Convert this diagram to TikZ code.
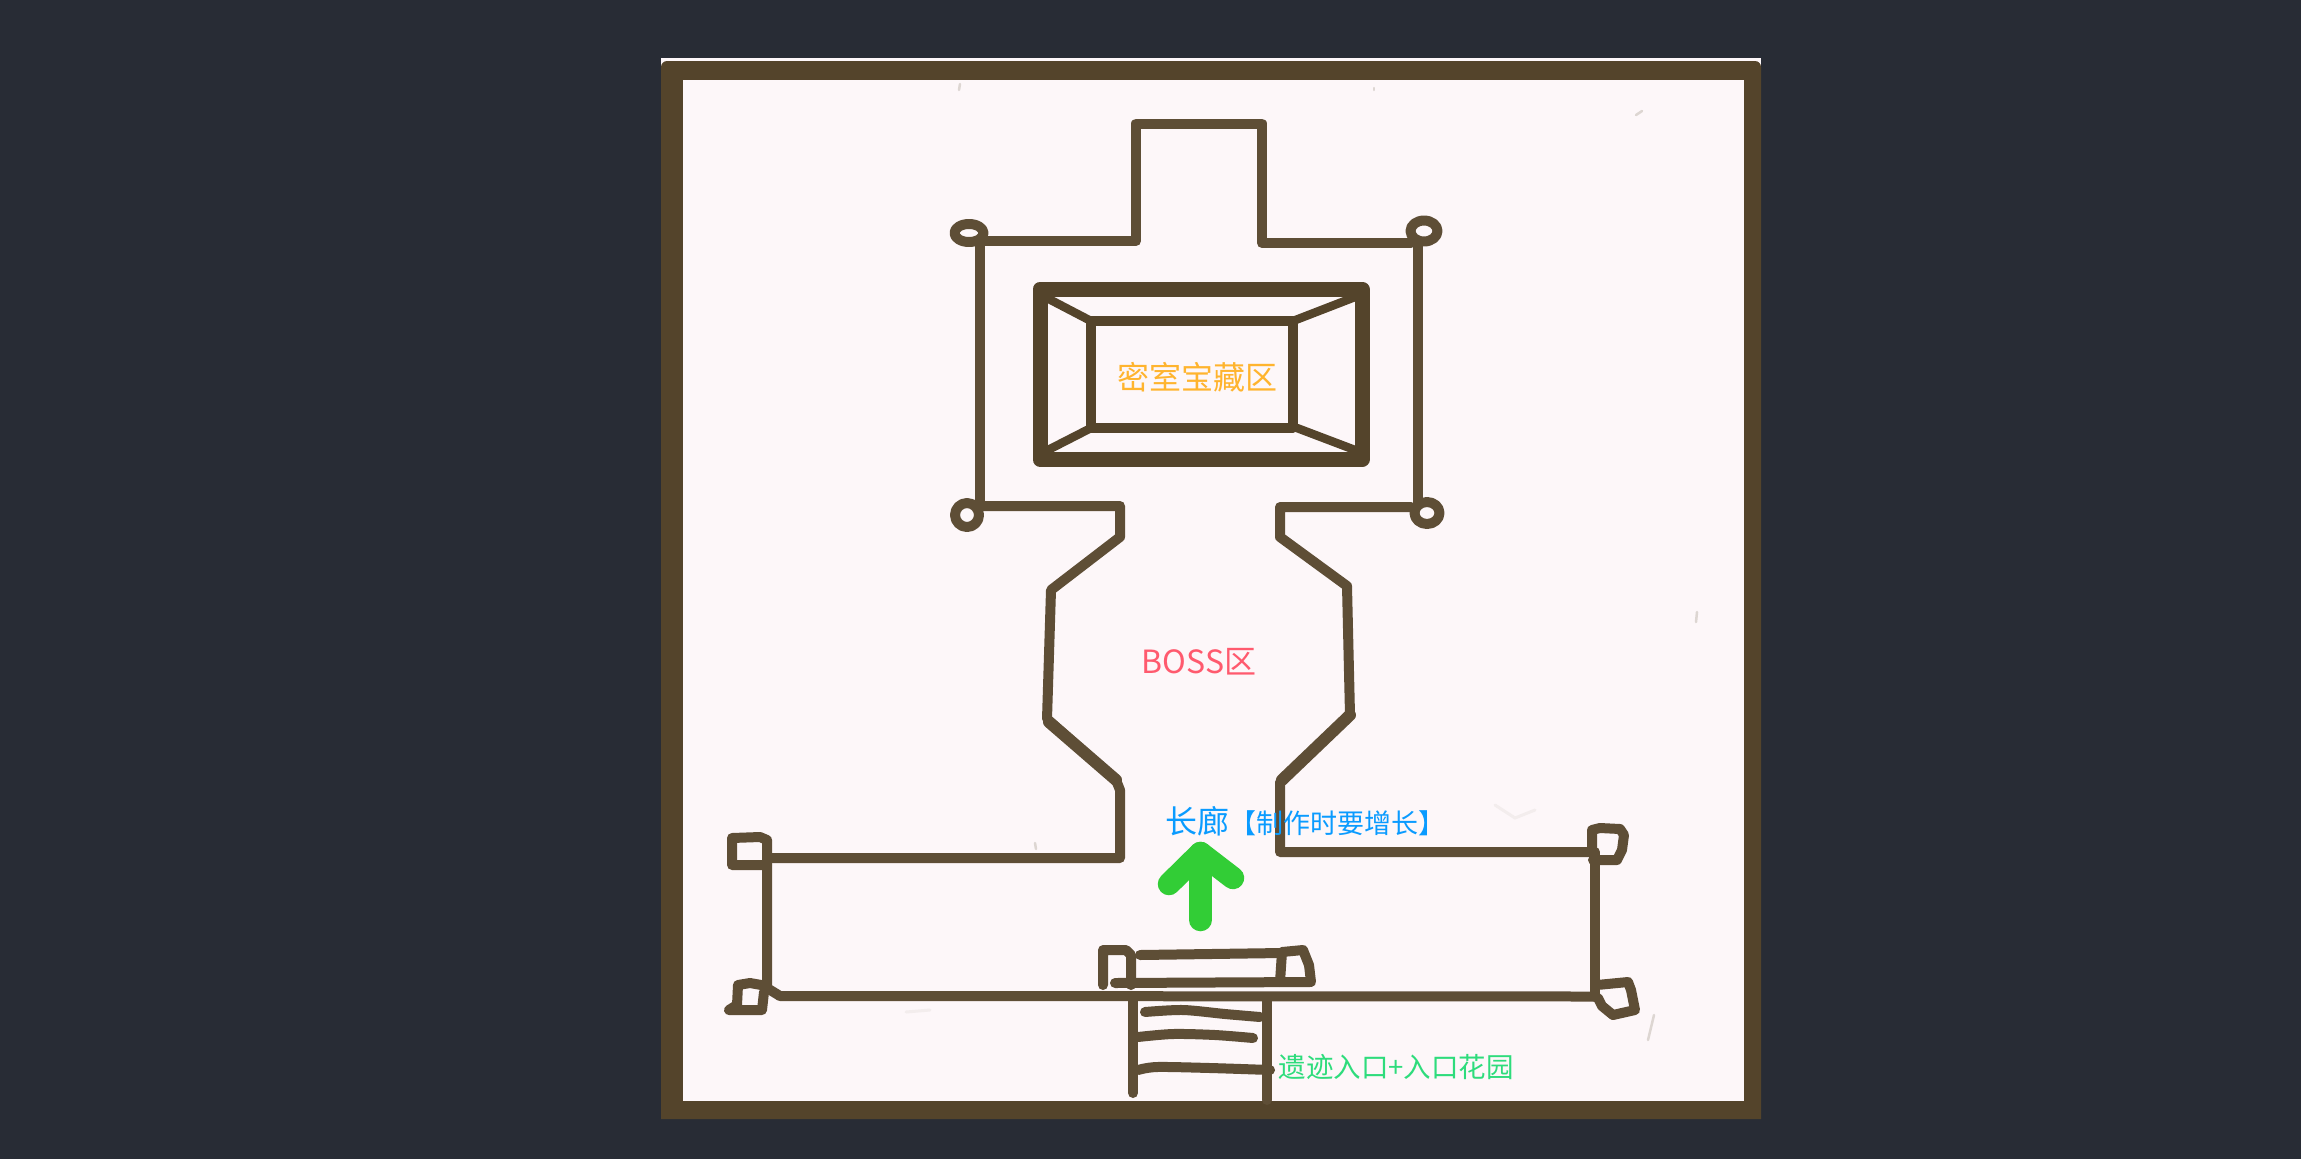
\documentclass[tikz,border=0pt]{standalone}
\usepackage{fontspec}
\newfontfamily\cjk{Noto Sans CJK SC}
\definecolor{bgdark}{HTML}{282C35}
\definecolor{paper}{HTML}{FDF7F9}
\definecolor{ink}{HTML}{54442B}
\definecolor{inkl}{HTML}{5E4E36}
\definecolor{speck}{HTML}{DDD6D2}
\definecolor{faintspeck}{HTML}{F3EDED}
\definecolor{gold}{HTML}{FFB42E}
\definecolor{rosered}{HTML}{FF5A6E}
\definecolor{skyblue}{HTML}{0A9BFF}
\definecolor{mint}{HTML}{2EDC7C}
\definecolor{arrowgreen}{HTML}{32CD36}
\tikzset{
  sketch/.style={draw=inkl,line width=1mm,line join=round,line cap=round},
  heavy/.style={draw=ink,line width=1.5mm,line join=round},
  fleck/.style={draw=speck,line width=0.25mm,line cap=round},
  faintfleck/.style={draw=faintspeck,line width=0.3mm,line cap=round},
  label/.style={inner sep=0pt,font=\cjk},
}
\begin{document}
\begin{tikzpicture}[x=0.1mm,y=-0.1mm]
\useasboundingbox (0,0) rectangle (2301,1159);
\fill[bgdark] (0,0) rectangle (2301,1159);
% panel
\fill[paper] (661,58) rectangle (1761,1119);
\fill[ink] (661,66) [rounded corners=0.6mm] -- (661,61) -- (1761,61) [sharp corners] -- (1761,1119) -- (661,1119) -- cycle;
\fill[paper] (683,80) rectangle (1744,1101);
% flecks
\draw[fleck] (960,84) -- (959,90);
\draw[fleck] (1374,88) -- (1374,90);
\draw[fleck] (1636,115) -- (1642,111);
\draw[fleck] (1035,843) -- (1036,849);
\draw[fleck] (1697,612) -- (1696,622);
\draw[fleck] (1654,1015) -- (1648,1040);
\draw[faintfleck] (906,1012) -- (930,1010);
\draw[faintfleck] (1495,805) -- (1515,818) -- (1535,810);
% upper room
\draw[sketch] (982,241) -- (1136,241) -- (1136,123.5) -- (1262,123.5) -- (1262,243) -- (1411,243);
\draw[sketch] (980,245) -- (980,503);
\draw[sketch] (1418,245) -- (1418,503);
\draw[sketch] (969,233) ellipse (14.5 and 9);
\draw[sketch] (1424,231) ellipse (13.5 and 10.5);
\draw[sketch] (967,515) ellipse (12 and 12);
\draw[sketch] (1427,513) ellipse (12.5 and 11);
% treasure
\draw[heavy] (1040,289) rectangle (1362,459.5);
\draw[sketch,draw=ink,line width=0.95mm] (1091,321) rectangle (1293,428);
\draw[sketch,draw=ink,line width=0.85mm] (1045,297) -- (1091,321);
\draw[sketch,draw=ink,line width=0.85mm] (1355,297) -- (1293,321);
\draw[sketch,draw=ink,line width=0.85mm] (1048,450) -- (1091,428);
\draw[sketch,draw=ink,line width=0.85mm] (1355,450) -- (1297,428);
% boss room and corridor
\draw[sketch] (982,506) -- (1120,506) -- (1120,537) -- (1051,590) -- (1047,719) -- (1116,780) -- (1120,790) -- (1120,858) -- (768,858);
\draw[sketch] (1411,507) -- (1280,507) -- (1280,537) -- (1347,586) -- (1350,715) -- (1280,782) -- (1280,852) -- (1593,852);
\draw[sketch,line width=1.2mm] (1049,722) -- (1116,780);
\draw[sketch,line width=1.2mm] (1350,715) -- (1282,780);
% lower hall
\draw[sketch] (767,858) -- (767,988) -- (780,996);
\draw[sketch] (1595,852) -- (1595,997);
\draw[sketch] (780,996) -- (1595,996.5);
\draw[sketch] (767,858) -- (767,840) -- (760,837) -- (732,838) -- (732,865) -- (767,865);
\draw[sketch] (1592,852) -- (1592,830) -- (1600,828) -- (1620,829) -- (1624,835) -- (1622,850) -- (1617,860) -- (1593,860);
\draw[sketch] (767,986) -- (750,983) -- (738,985) -- (737,1005) -- (729,1010) -- (762,1010) -- (764,992);
\draw[sketch] (1597,985) -- (1628,982) -- (1631,990) -- (1635,1010) -- (1613,1015) -- (1602,1006) -- (1598,998);
% stairs
\draw[sketch] (1140,955) -- (1282,953);
\draw[sketch] (1115,983) -- (1310,982);
\draw[sketch] (1131,985) -- (1131,955) -- (1126,950) -- (1103,950) -- (1103,985);
\draw[sketch] (1280,982) -- (1282,952) -- (1303,950) -- (1309,965) -- (1311,982);
\draw[sketch] (1133,996) -- (1133,1093);
\draw[sketch] (1267,1000) -- (1267,1100);
\draw[sketch] plot[smooth] coordinates {(1145,1012) (1183,1010) (1225,1014) (1260,1017)};
\draw[sketch] plot[smooth] coordinates {(1138,1037) (1173,1034) (1215,1035) (1253,1038)};
\draw[sketch] plot[smooth] coordinates {(1138,1070) (1157,1067) (1210,1068) (1270,1070)};
% arrow
\draw[arrowgreen,line width=2.25mm,line cap=round,line join=round] (1200.5,920) -- (1200.5,853);
\draw[arrowgreen,line width=2.25mm,line cap=round,line join=round] (1169,884) -- (1200.5,853) -- (1233,878);
% labels
\node[label,text=gold,font=\cjk\fontsize{3.2mm}{3.2mm}\selectfont] (treasure) at (1197,377) {密室宝藏区};
\node[label,text=rosered,font=\cjk\fontsize{3.2mm}{3.2mm}\selectfont] (boss) at (1199,662) {BOSS区};
\node[label,text=skyblue,anchor=west] (corridor) at (1165,821) {{\fontsize{3.2mm}{3.2mm}\selectfont 长廊}{\fontsize{2.7mm}{2.7mm}\selectfont 【制作时要增长】}};
\node[label,text=mint,anchor=west,font=\cjk\fontsize{2.75mm}{2.75mm}\selectfont] (entry) at (1278,1067) {遗迹入口+入口花园};
\end{tikzpicture}
\end{document}
